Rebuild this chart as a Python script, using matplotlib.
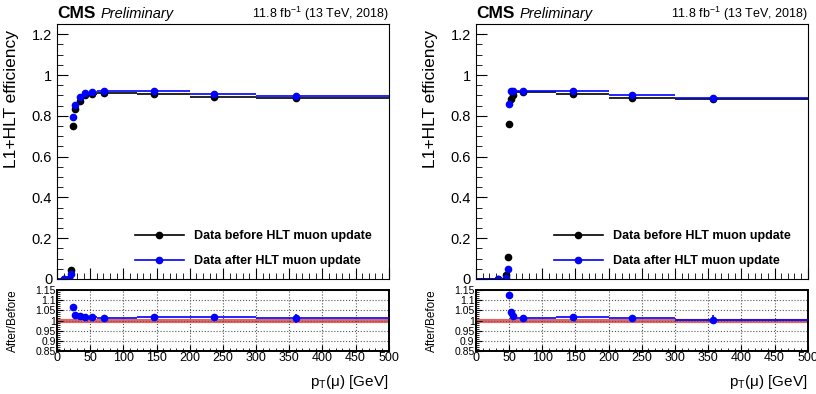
import numpy as np
import matplotlib
matplotlib.use('Agg')
import matplotlib.pyplot as plt
from matplotlib.lines import Line2D
from matplotlib.ticker import MultipleLocator, FuncFormatter

plt.rcParams['font.family'] = ['Liberation Sans', 'DejaVu Sans']
plt.rcParams['mathtext.fontset'] = 'custom'
plt.rcParams['mathtext.rm'] = 'Liberation Sans'
plt.rcParams['mathtext.it'] = 'Liberation Sans:italic'

# Left panel (low-threshold path)
left_edges = [0, 15, 20, 23, 25, 30, 40, 50, 60, 120, 200, 300, 500]
left_x = [10.5, 18, 21.5, 24, 27, 35, 42, 53, 71, 146, 236, 360]
left_before = [0.0, 0.0, 0.044, 0.748, 0.833, 0.875, 0.902, 0.905, 0.912, 0.905, 0.890, 0.885]
left_after = [0.0, 0.0, 0.023, 0.794, 0.854, 0.892, 0.912, 0.918, 0.920, 0.920, 0.905, 0.897]
left_err = [0.001, 0.001, 0.004, 0.006, 0.005, 0.004, 0.003, 0.003, 0.003, 0.004, 0.005, 0.010]
left_ratio = [np.nan, np.nan, np.nan, 1.065, 1.025, 1.020, 1.015, 1.015, 1.010, 1.016, 1.016, 1.010]
left_ratio_err = [0, 0, 0, 0.005, 0.004, 0.003, 0.003, 0.003, 0.003, 0.004, 0.005, 0.020]

# Right panel (high-threshold path)
right_edges = [0, 40, 47, 49, 51, 53, 60, 120, 200, 300, 500]
right_x = [33, 45, 48, 50.3, 52.5, 55.5, 71, 146, 235, 358]
right_before = [0.0, 0.018, 0.108, 0.759, 0.884, 0.900, 0.915, 0.907, 0.887, 0.884]
right_after = [0.0, 0.003, 0.049, 0.856, 0.921, 0.921, 0.923, 0.921, 0.901, 0.888]
right_err = [0.001, 0.003, 0.008, 0.008, 0.005, 0.005, 0.003, 0.004, 0.005, 0.010]
right_ratio = [np.nan, np.nan, np.nan, 1.125, 1.042, 1.022, 1.012, 1.015, 1.013, 1.005]
right_ratio_err = [0, 0, 0, 0.006, 0.004, 0.004, 0.003, 0.004, 0.005, 0.020]

lumi_text = '11.8 fb$^{-1}$ (13 TeV, 2018)'
label_before = 'Data before HLT muon update'
label_after = 'Data after HLT muon update'
blue = '#0000ff'


def xerrs(x, edges):
    x = np.asarray(x, dtype=float)
    lo = x - np.asarray(edges[:-1], dtype=float)
    hi = np.asarray(edges[1:], dtype=float) - x
    return [lo, hi]


def fmt(v, pos):
    return '%g' % round(v, 3)


def draw_panel(fig, left, edges, x, before, after, err, ratio, ratio_err):
    width = 0.4065
    ax = fig.add_axes([left, 0.292, width, 0.647])
    rax = fig.add_axes([left, 0.109, width, 0.155])

    xe = xerrs(x, edges)
    ax.errorbar(x, before, yerr=err, xerr=xe, fmt='o', color='black',
                ms=4.5, lw=1.2, capsize=0)
    ax.errorbar(x, after, yerr=err, xerr=xe, fmt='o', color=blue,
                ms=4.5, lw=1.2, capsize=0)

    ax.set_xlim(0, 500)
    ax.set_ylim(0, 1.25)
    ax.yaxis.set_major_locator(MultipleLocator(0.2))
    ax.yaxis.set_minor_locator(MultipleLocator(0.05))
    ax.xaxis.set_major_locator(MultipleLocator(50))
    ax.xaxis.set_minor_locator(MultipleLocator(10))
    ax.yaxis.set_major_formatter(FuncFormatter(fmt))
    ax.tick_params(which='both', direction='in', top=False, right=False,
                   labelbottom=False, labelsize=10.5)
    ax.tick_params(which='major', length=8)
    ax.tick_params(which='minor', length=4)
    ax.set_ylabel('L1+HLT efficiency', fontsize=12.5, loc='top')
    ax.yaxis.set_label_coords(-0.115, 0.975)

    ax.text(0, 1.022, 'CMS', transform=ax.transAxes, fontsize=12.5,
            fontweight='bold', va='baseline', ha='left')
    ax.text(0.132, 1.022, 'Preliminary', transform=ax.transAxes, fontsize=10.5,
            style='italic', va='baseline', ha='left')
    ax.text(1.0, 1.022, lumi_text, transform=ax.transAxes, fontsize=9,
            va='baseline', ha='right')

    handles = [Line2D([], [], color='black', marker='o', ms=4.5, lw=1.2),
               Line2D([], [], color=blue, marker='o', ms=4.5, lw=1.2)]
    ax.legend(handles, [label_before, label_after], loc='lower left',
              bbox_to_anchor=(0.235, 0.045), frameon=False,
              prop={'size': 9, 'weight': 'bold'}, handlelength=3.9,
              handletextpad=0.8, labelspacing=1.05, borderpad=0,
              borderaxespad=0)

    # ratio panel
    rax.axhline(1.0, color='#e03030', lw=3, alpha=0.75, zorder=1)
    rax.errorbar(x, ratio, yerr=ratio_err, xerr=xe, fmt='o', color=blue,
                 ms=4.5, lw=1.2, capsize=0, zorder=3)
    rax.set_xlim(0, 500)
    rax.set_ylim(0.85, 1.15)
    rax.yaxis.set_major_locator(MultipleLocator(0.05))
    rax.yaxis.set_minor_locator(MultipleLocator(0.01))
    rax.xaxis.set_major_locator(MultipleLocator(50))
    rax.xaxis.set_minor_locator(MultipleLocator(10))
    rax.yaxis.set_major_formatter(FuncFormatter(fmt))
    rax.grid(True, which='major', ls=':', color='#555555', lw=0.8)
    rax.tick_params(which='both', direction='in', top=False, right=False)
    rax.tick_params(axis='y', labelsize=7.5, pad=1)
    rax.tick_params(axis='x', labelsize=9, pad=1)
    rax.tick_params(which='major', length=4)
    rax.tick_params(which='minor', length=2)
    for s in rax.spines.values():
        s.set_linewidth(1.4)
    rax.set_ylabel('After/Before', fontsize=8.5)
    rax.yaxis.set_label_coords(-0.115, 0.5)
    rax.set_xlabel('p$_{\\mathrm{T}}$(\u03bc) [GeV]', fontsize=11, loc='right',
                   labelpad=6)
    return ax, rax


fig = plt.figure(figsize=(8.16, 3.94), dpi=100)
draw_panel(fig, 0.0699, left_edges, left_x, left_before, left_after,
           left_err, left_ratio, left_ratio_err)
draw_panel(fig, 0.5833, right_edges, right_x, right_before, right_after,
           right_err, right_ratio, right_ratio_err)
fig.savefig('out.png', dpi=100)
